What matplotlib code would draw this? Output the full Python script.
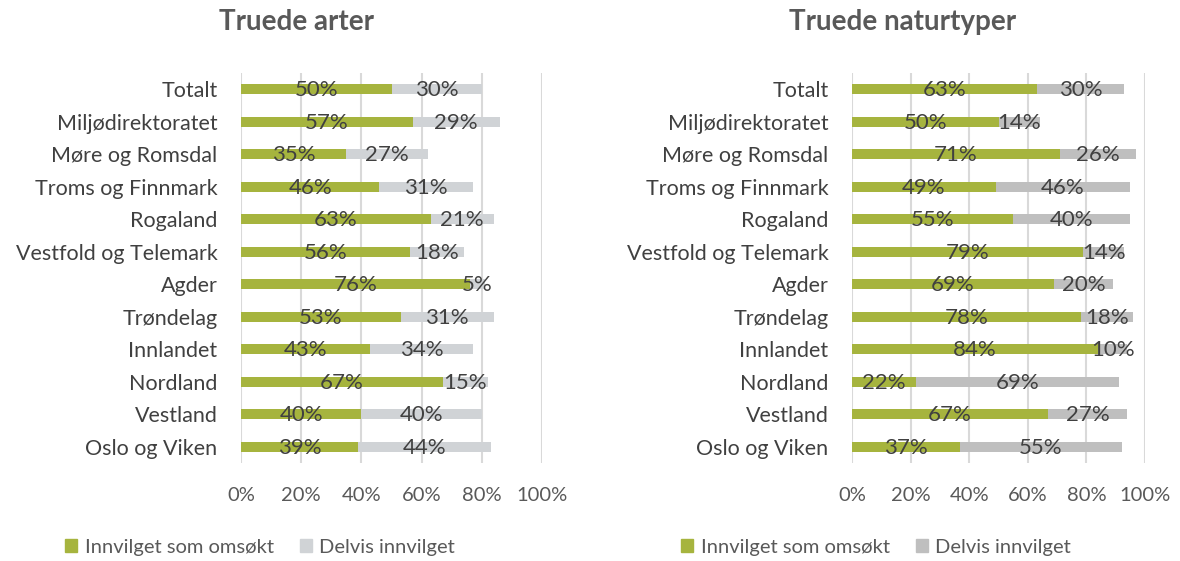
import matplotlib
matplotlib.use("Agg")
from matplotlib import pyplot as plt
from matplotlib.patches import Patch

plt.rcParams['font.family'] = ['Lato', 'DejaVu Sans']

# data
categories = ["Totalt", "Miljødirektoratet", "Møre og Romsdal", "Troms og Finnmark",
              "Rogaland", "Vestfold og Telemark", "Agder", "Trøndelag", "Innlandet",
              "Nordland", "Vestland", "Oslo og Viken"]
arter_innvilget = [50, 57, 35, 46, 63, 56, 76, 53, 43, 67, 40, 39]
arter_delvis = [30, 29, 27, 31, 21, 18, 5, 31, 34, 15, 40, 44]
natur_innvilget = [63, 50, 71, 49, 55, 79, 69, 78, 84, 22, 67, 37]
natur_delvis = [30, 14, 26, 46, 40, 14, 20, 18, 10, 69, 27, 55]
xticks = [0, 20, 40, 60, 80, 100]
xticklabels = ["0%", "20%", "40%", "60%", "80%", "100%"]

green = "#A6B43E"
grey_left = "#D0D3D6"
grey_right = "#BFBFBF"
txt = "#404040"

fig = plt.figure(figsize=(11.8, 5.61), dpi=100)
ax1 = fig.add_axes([241/1180, 1-463/561, 301/1180, 390/561])
ax2 = fig.add_axes([852/1180, 1-463/561, 293/1180, 390/561])


def draw(ax, green_vals, grey_vals, grey_col):
    y = list(range(len(categories)))
    ax.barh(y, green_vals, height=0.31, color=green, zorder=3)
    ax.barh(y, grey_vals, left=green_vals, height=0.31, color=grey_col, zorder=3)
    for i in y:
        g = green_vals[i]
        d = grey_vals[i]
        ax.text(g/2, i + 0.03, f"{g}%", ha="center", va="center", fontsize=16, color=txt, zorder=4)
        ax.text(g + d/2, i + 0.03, f"{d}%", ha="center", va="center", fontsize=16, color=txt, zorder=4)
    ax.set_xlim(0, 100)
    ax.set_ylim(len(categories) - 0.5, -0.5)
    ax.set_yticks(y)
    ax.set_yticklabels(categories, fontsize=15.5, color="#404040")
    ax.set_xticks(xticks)
    ax.set_xticklabels(xticklabels, fontsize=14.5, color="#595959")
    ax.tick_params(axis="y", length=0, pad=17)
    ax.tick_params(axis="x", length=0, pad=17)
    ax.grid(axis="x", color="#D9D9D9", linewidth=1.5, zorder=0)
    for s in ax.spines.values():
        s.set_visible(False)


draw(ax1, arter_innvilget, arter_delvis, grey_left)
draw(ax2, natur_innvilget, natur_delvis, grey_right)

fig.text(297/1180, 1-22/561, "Truede arter", ha="center", va="center",
         fontsize=20, fontweight="bold", color="#595959")
fig.text(903/1180, 1-22/561, "Truede naturtyper", ha="center", va="center",
         fontsize=20, fontweight="bold", color="#595959")

fig.legend(handles=[Patch(color=green, label="Innvilget som omsøkt"),
                    Patch(color=grey_left, label="Delvis innvilget")],
           loc="center", bbox_to_anchor=(260/1180, 1-547/561), ncol=2, frameon=False,
           fontsize=14.5, labelcolor="#595959", handlelength=0.6, handleheight=0.6,
           handletextpad=0.35, columnspacing=1.3)
fig.legend(handles=[Patch(color=green, label="Innvilget som omsøkt"),
                    Patch(color=grey_right, label="Delvis innvilget")],
           loc="center", bbox_to_anchor=(876/1180, 1-547/561), ncol=2, frameon=False,
           fontsize=14.5, labelcolor="#595959", handlelength=0.6, handleheight=0.6,
           handletextpad=0.35, columnspacing=1.3)

fig.savefig("out.png", dpi=100)
